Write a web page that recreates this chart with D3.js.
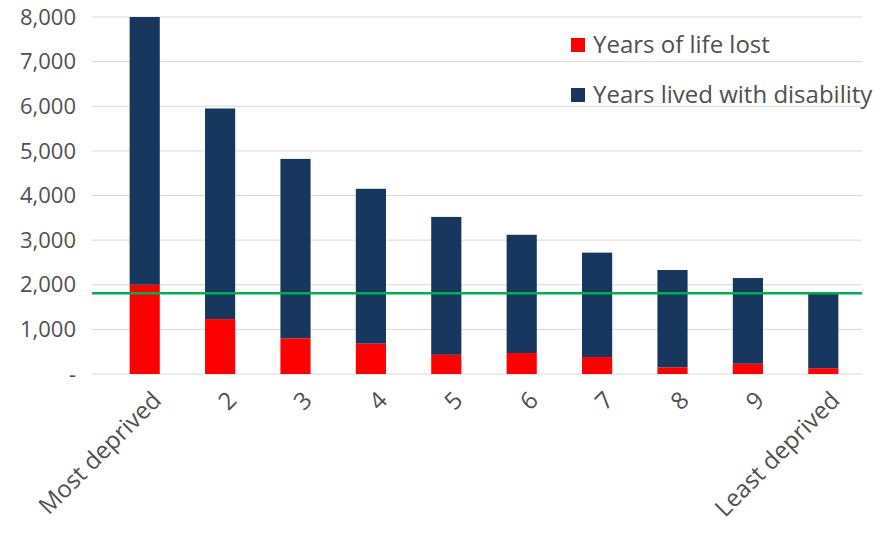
<!DOCTYPE html>
<html><head><meta charset="utf-8">
<script src="https://cdn.jsdelivr.net/npm/d3@7"></script>
<style>body{margin:0;background:#fff}text{font-family:"Open Sans",sans-serif;fill:#505050}</style>
</head><body><svg id="c" width="887" height="534"></svg>
<script>
const categories=["Most deprived","2","3","4","5","6","7","8","9","Least deprived"];
const yll=[2000,1230,800,680,430,470,380,150,230,130];
const yld=[6000,4720,4020,3470,3090,2650,2340,2180,1920,1670];
const yTicks=[0,1000,2000,3000,4000,5000,6000,7000,8000];
const refLine=1810;
const svg=d3.select("#c");
const x=d3.scaleBand().domain(categories).range([107,861]).paddingInner(0.6).paddingOuter(0.3);
const y=d3.scaleLinear().domain([0,8000]).range([374,17]);
svg.append("g").selectAll("line").data(yTicks.slice(1)).join("line")
 .attr("x1",92).attr("x2",862).attr("y1",d=>y(d)).attr("y2",d=>y(d)).attr("stroke","#d9d9d9");
svg.append("line").attr("x1",92).attr("x2",862).attr("y1",y(0)).attr("y2",y(0)).attr("stroke","#d9d9d9");
svg.append("g").selectAll("text").data(yTicks).join("text")
 .attr("x",76).attr("y",d=>y(d)).attr("dy","0.35em").attr("text-anchor","end").attr("font-size",22)
 .text(d=>d===0?"-":d3.format(",")(d));
svg.append("g").selectAll("rect").data(categories).join("rect")
 .attr("x",d=>x(d)).attr("width",x.bandwidth()).attr("y",(d,i)=>y(yll[i])).attr("height",(d,i)=>y(0)-y(yll[i])).attr("fill","#ff0000");
svg.append("g").selectAll("rect").data(categories).join("rect")
 .attr("x",d=>x(d)).attr("width",x.bandwidth()).attr("y",(d,i)=>y(yll[i]+yld[i])).attr("height",(d,i)=>y(yll[i])-y(yll[i]+yld[i])).attr("fill","#17375e");
svg.append("line").attr("x1",92).attr("x2",862).attr("y1",y(refLine)).attr("y2",y(refLine)).attr("stroke","#00b050").attr("stroke-width",2.5);
svg.append("g").selectAll("text").data(categories).join("text")
 .attr("transform",d=>`translate(${x(d)+x.bandwidth()/2+6},390) rotate(-45)`)
 .attr("text-anchor","end").attr("dy","0.7em").attr("font-size",24).text(d=>d);
const leg=[["Years of life lost","#ff0000"],["Years lived with disability","#17375e"]];
const lg=svg.append("g").selectAll("g").data(leg).join("g").attr("transform",(d,i)=>`translate(571,${45+i*50})`);
lg.append("rect").attr("x",0).attr("y",-7).attr("width",14).attr("height",14).attr("fill",d=>d[1]);
lg.append("text").attr("x",22).attr("dy","0.35em").attr("font-size",24).text(d=>d[0]);
</script></body></html>
